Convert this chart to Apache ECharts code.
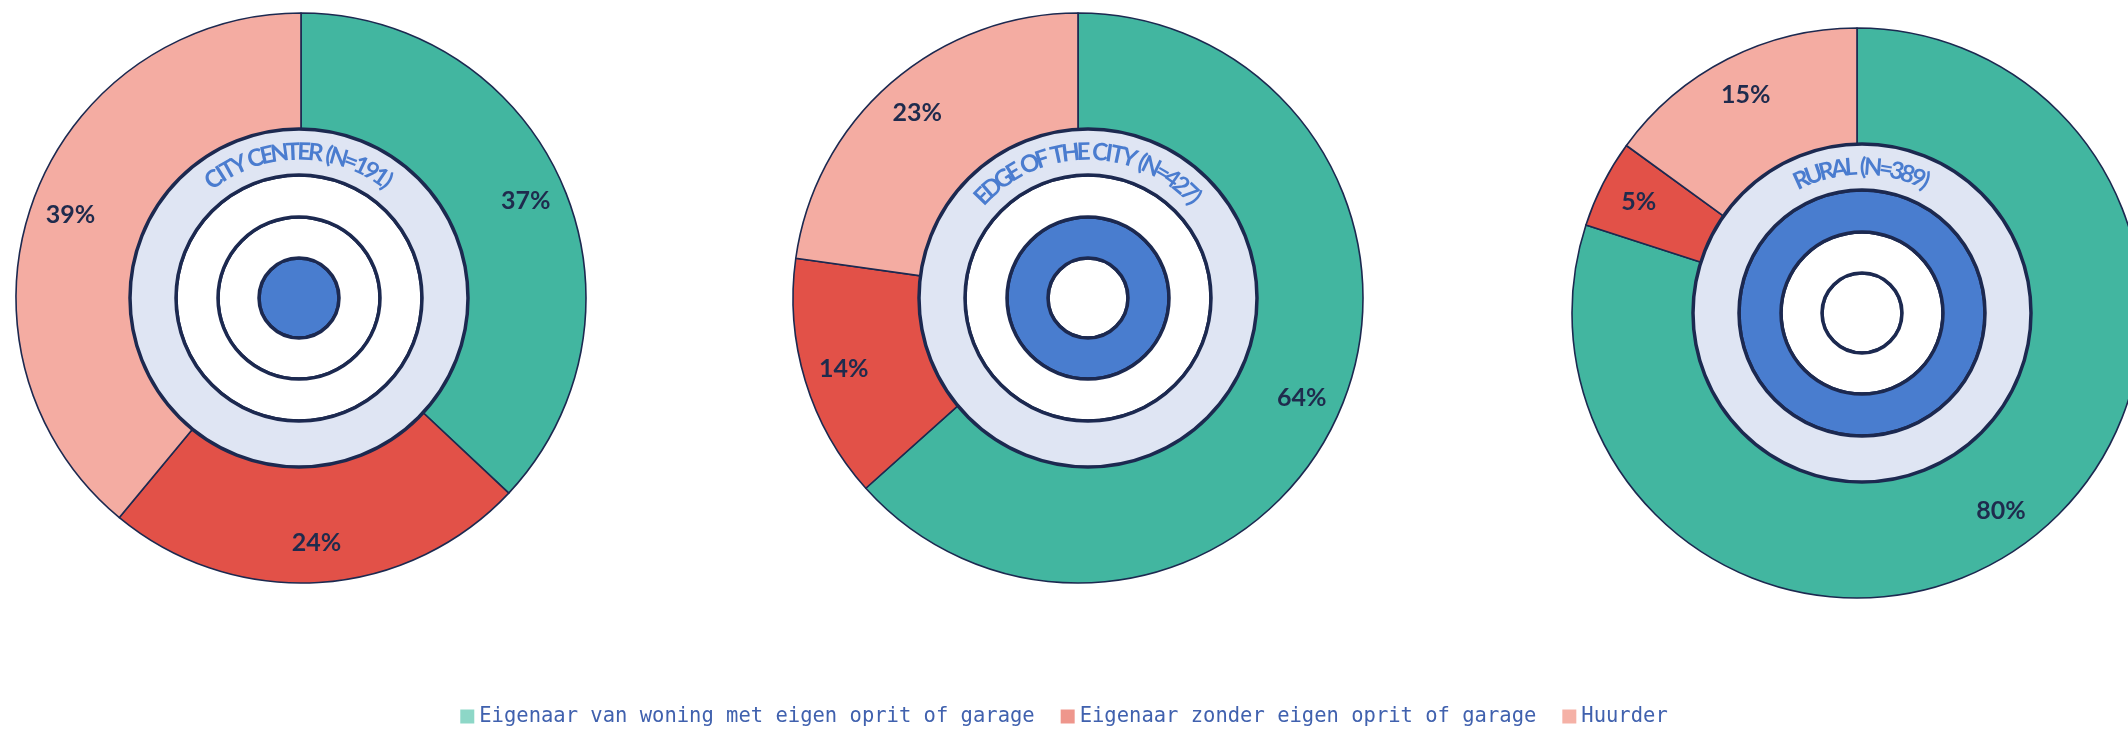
<!DOCTYPE html>
<html>
<head>
<meta charset="utf-8">
<title>Woonsituatie per gebied</title>
<script src="https://cdn.jsdelivr.net/npm/echarts@6/dist/echarts.min.js"></script>
<style>html,body{margin:0;padding:0;background:#fff}</style>
</head>
<body>
<div id="main" style="width:2128px;height:729px"></div>
<script>
var categories = ['Eigenaar van woning met eigen oprit of garage', 'Eigenaar zonder eigen oprit of garage', 'Huurder'];
var regions = ['CITY CENTER (N=191)', 'EDGE OF THE CITY (N=427)', 'RURAL (N=389)'];
var ownerDriveway = [37, 64, 80];
var ownerNoDriveway = [24, 14, 5];
var renter = [39, 23, 15];
// welke ring van de schietschijf blauw is (0 = middelpunt)
var targetBlue = [0, 1, 2];

var sliceColors = ['#42b6a0', '#e25148', '#f4aca2'];
var legendColors = ['#8dd7c7', '#ee968c', '#f5b1a6'];
var dark = '#1c2950';

var pieCenters = [[301, 298], [1078, 298], [1857, 313]];
var targetCenters = [[299, 298], [1088, 298], [1862, 313]];
var ringRadii = [[0, 40], [40, 81], [81, 123], [123, 169]];
var outerR = 285, labelR = 245, textR = 146;

var chart = echarts.init(document.getElementById('main'));
var values = [ownerDriveway, ownerNoDriveway, renter];
var series = [];

for (var i = 0; i < 3; i++) {
	series.push({
		type: 'pie',
		center: pieCenters[i],
		radius: [130, outerR],
		startAngle: 90,
		clockwise: true,
		silent: true,
		animation: false,
		itemStyle: {borderColor: dark, borderWidth: 1.6},
		label: {position: 'inside', formatter: '{c}%', color: '#1f2b4d', fontFamily: 'Lato', fontWeight: 'bold', fontSize: 25},
		labelLine: {show: false},
		labelLayout: (function (c) {
			return function (p) {
				var r = p.labelRect;
				var x = r.x + r.width / 2 - c[0], y = r.y + r.height / 2 - c[1];
				var k = labelR / Math.sqrt(x * x + y * y) - 1;
				return {dx: x * k, dy: y * k};
			};
		})(pieCenters[i]),
		data: categories.map(function (name, j) {
			return {name: name, value: values[j][i], itemStyle: {color: sliceColors[j]}};
		})
	});
}

// schietschijf in het midden
for (var i = 0; i < 3; i++) {
	ringRadii.forEach(function (rr, k) {
		var fill = k === 3 ? '#dfe5f3' : (k === targetBlue[i] ? '#497dcf' : '#ffffff');
		series.push({
			type: 'pie',
			center: targetCenters[i],
			radius: rr,
			silent: true,
			animation: false,
			z: 3,
			label: {show: false},
			labelLine: {show: false},
			itemStyle: {color: fill, borderColor: dark, borderWidth: 3.5},
			data: [{name: 'ring', value: 1}]
		});
	});
}

// gebogen titel langs de lichte ring
var ctx = document.createElement('canvas').getContext('2d');
var font = 'bold 24px Lato';
ctx.font = font;
var spacing = 0.8;
var graphics = [];
regions.forEach(function (txt, i) {
	var chars = txt.split('');
	var w = chars.map(function (ch) { return ctx.measureText(ch).width * spacing; });
	var total = w.reduce(function (a, b) { return a + b; }, 0);
	var s = 0;
	chars.forEach(function (ch, j) {
		var mid = s + w[j] / 2;
		s += w[j];
		var th = (mid - total / 2) / textR;
		graphics.push({
			type: 'text',
			x: targetCenters[i][0] + textR * Math.sin(th),
			y: targetCenters[i][1] - textR * Math.cos(th),
			rotation: -th,
			z: 10,
			silent: true,
			style: {text: ch, fill: '#4a7ccf', font: font, align: 'center', verticalAlign: 'middle', textAlign: 'center', textVerticalAlign: 'middle'}
		});
	});
});

chart.setOption({
	animation: false,
	legend: {
		data: categories.map(function (n, j) {
			return {name: n, itemStyle: {color: legendColors[j], borderWidth: 0}};
		}),
		bottom: 2,
		left: 'center',
		padding: 0,
		icon: 'rect',
		itemWidth: 14,
		itemHeight: 14,
		itemGap: 26,
		textStyle: {color: '#4061ae', fontSize: 20.5, fontFamily: 'DejaVu Sans Mono'}
	},
	graphic: {elements: graphics},
	series: series
});
</script>
</body>
</html>
